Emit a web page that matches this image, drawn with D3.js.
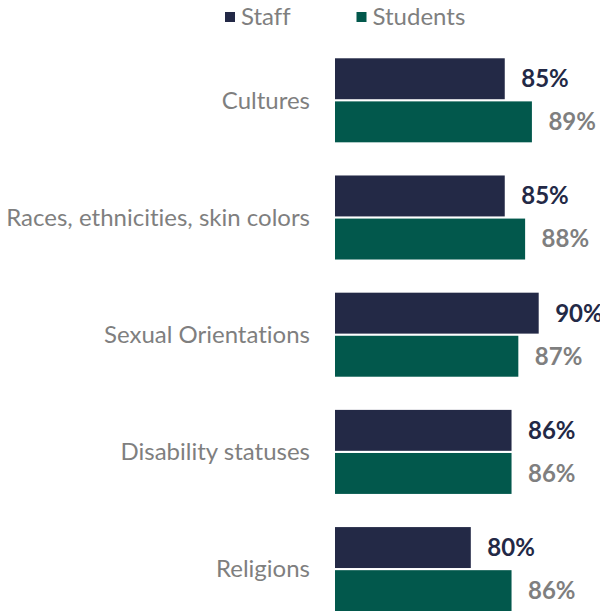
<!DOCTYPE html>
<html>
<head>
<meta charset="utf-8">
<script src="https://cdn.jsdelivr.net/npm/d3@7"></script>
<style>
  body { margin: 0; background: #fff; }
  svg { display: block; font-family: Lato, "Open Sans", sans-serif; font-variant-ligatures: none; }
</style>
</head>
<body>
<div id="chart"></div>
<script>
// chart data
var categories = ["Cultures", "Races, ethnicities, skin colors", "Sexual Orientations", "Disability statuses", "Religions"];
var series = ["Staff", "Students"];
var staffValues = [85, 85, 90, 86, 80];
var studentValues = [89, 88, 87, 86, 86];
var seriesColors = ["#232946", "#02584c"];
var labelColors = ["#232946", "#7f7f7f"];

const width = 600, height = 611;

var svg = d3.select("#chart")
  .append("svg")
  .attr("width", width)
  .attr("height", height);

// x axis starts at 60%, the bars are cropped there
const x = d3.scaleLinear()
  .domain([60, 100])
  .range([335, 606.6]);

const y0 = d3.scaleBand()
  .domain(categories)
  .range([41.7, 627.7])
  .paddingInner(0.283)
  .paddingOuter(0.1415);

const y1 = d3.scaleBand()
  .domain(series)
  .range([0, y0.bandwidth()])
  .paddingInner(0.05);

var rows = categories.map((c, i) => ({
  category: c,
  values: [
    { key: "Staff", value: staffValues[i] },
    { key: "Students", value: studentValues[i] }
  ]
}));

var groups = svg.append("g")
  .selectAll("g")
  .data(rows)
  .enter()
  .append("g")
  .attr("transform", d => "translate(0," + y0(d.category) + ")");

groups.selectAll("rect")
  .data(d => d.values)
  .enter()
  .append("rect")
  .attr("x", x(60))
  .attr("y", d => y1(d.key))
  .attr("width", d => x(d.value) - x(60))
  .attr("height", y1.bandwidth())
  .attr("fill", d => seriesColors[series.indexOf(d.key)]);

// value labels
groups.selectAll("text.value")
  .data(d => d.values)
  .enter()
  .append("text")
  .attr("class", "value")
  .attr("x", d => x(d.value) + 16.5)
  .attr("y", d => y1(d.key) + y1.bandwidth() / 2)
  .attr("dy", "0.35em")
  .attr("font-size", 24)
  .attr("font-weight", "bold")
  .attr("fill", d => labelColors[series.indexOf(d.key)])
  .text(d => d.value + "%");

// category labels
groups.append("text")
  .attr("x", 310)
  .attr("y", y0.bandwidth() / 2)
  .attr("dy", "0.35em")
  .attr("text-anchor", "end")
  .attr("font-size", 24)
  .attr("fill", "#7f7f7f")
  .text(d => d.category);

// legend
var legendX = [225, 356.5];
var legend = svg.append("g")
  .selectAll("g")
  .data(series)
  .enter()
  .append("g")
  .attr("transform", (d, i) => "translate(" + legendX[i] + ",12)");

legend.append("rect")
  .attr("width", 10)
  .attr("height", 10)
  .attr("fill", (d, i) => seriesColors[i]);

legend.append("text")
  .attr("x", 16)
  .attr("y", 5)
  .attr("dy", "0.35em")
  .attr("font-size", 24)
  .attr("fill", "#7f7f7f")
  .text(d => d);
</script>
</body>
</html>
